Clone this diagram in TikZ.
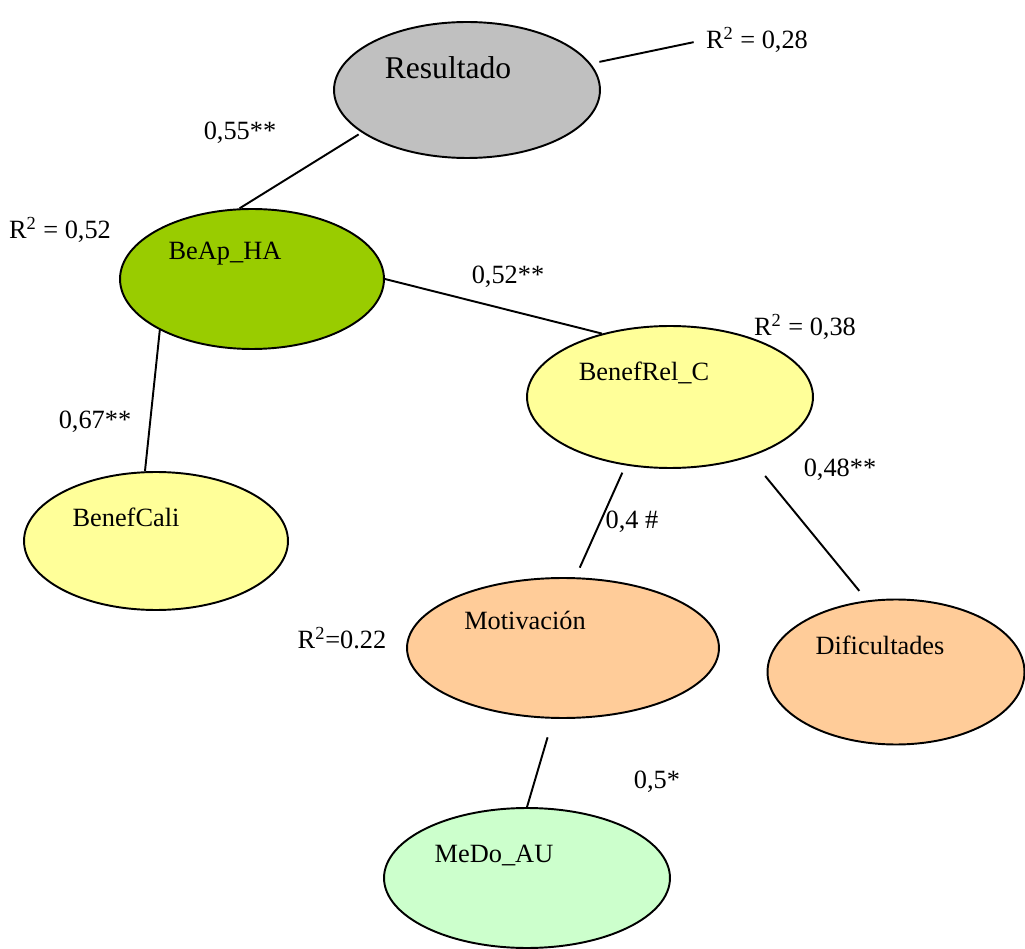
\documentclass[tikz,border=0pt]{standalone}
\usepackage{fontspec}
\setmainfont{Liberation Serif}
\usetikzlibrary{shapes.geometric}
\definecolor{resgray}{HTML}{C0C0C0}
\definecolor{beapgreen}{HTML}{99CC00}
\definecolor{benefyellow}{HTML}{FFFF99}
\definecolor{motorange}{HTML}{FFCC99}
\definecolor{medomint}{HTML}{CCFFCC}

\begin{document}
\begin{tikzpicture}[x=0.02cm,y=-0.02cm,every node/.style={font=\fontsize{15}{18}\selectfont},
 ell/.style={draw,ellipse,line width=1.1pt,inner sep=0pt},
 ln/.style={line width=1.1pt},
 txt/.style={inner sep=1pt}]
\useasboundingbox (0,0) rectangle (1025,949);
% ellipses
\node[ell,fill=resgray,minimum width=5.32cm,minimum height=2.72cm,
 label={[shift={(-19,-22)},font=\fontsize{18}{21}\selectfont]center:Resultado}] (res) at (467,90) {};
\node[ell,fill=beapgreen,minimum width=5.28cm,minimum height=2.8cm,
 label={[shift={(-27,-25)}]center:BeAp\_HA}] (beap) at (252,279) {};
\node[ell,fill=benefyellow,minimum width=5.72cm,minimum height=2.84cm,
 label={[shift={(-26,-24)}]center:BenefRel\_C}] (benefrel) at (670,397) {};
\node[ell,fill=benefyellow,minimum width=5.28cm,minimum height=2.76cm,
 label={[shift={(-30,-24)}]center:BenefCali}] (benefcali) at (156,541) {};
\node[ell,fill=motorange,minimum width=6.24cm,minimum height=2.8cm,
 label={[shift={(-38,-28)}]center:Motivación}] (motiv) at (563,648) {};
\node[ell,fill=motorange,minimum width=5.14cm,minimum height=2.9cm,
 label={[shift={(-16,-27)}]center:Dificultades}] (dif) at (896,672) {};
\node[ell,fill=medomint,minimum width=5.72cm,minimum height=2.8cm,
 label={[shift={(-33,-23)}]center:MeDo\_AU}] (medo) at (527,878) {};
% coefficients
\node[txt] (r2res) at (757,40) {R\textsuperscript{2} = 0,28};
\node[txt] (r2beap) at (60,230) {R\textsuperscript{2} = 0,52};
\node[txt] (r2benef) at (805,327) {R\textsuperscript{2} = 0,38};
\node[txt] (r2motiv) at (342,638) {R\textsuperscript{2}=0.22};
\node[txt] (c1) at (240,133) {0,55**};
\node[txt] (c2) at (508,277) {0,52**};
\node[txt] (c3) at (95,422) {0,67**};
\node[txt] (c4) at (632,522) {0,4 \#};
\node[txt] (c5) at (840,470) {0,48**};
\node[txt] (c6) at (657,782) {0,5*};
% links
\draw[ln,shorten <=5pt,shorten >=6pt] (res.12)--(r2res.west);
\draw[ln,shorten <=2pt] (res.202)--(beap.100);
\draw[ln] (beap.east)--(benefrel.137);
\draw[ln] (beap.209)--(benefcali.99);
\draw[ln,shorten <=4.5pt,shorten >=6pt] (benefrel.237)--(motiv.80);
\draw[ln,shorten <=14pt,shorten >=7pt] (benefrel.323)--(dif.112);
\draw[ln,shorten <=11pt] (motiv.262)--(medo.90);
\end{tikzpicture}
\end{document}
